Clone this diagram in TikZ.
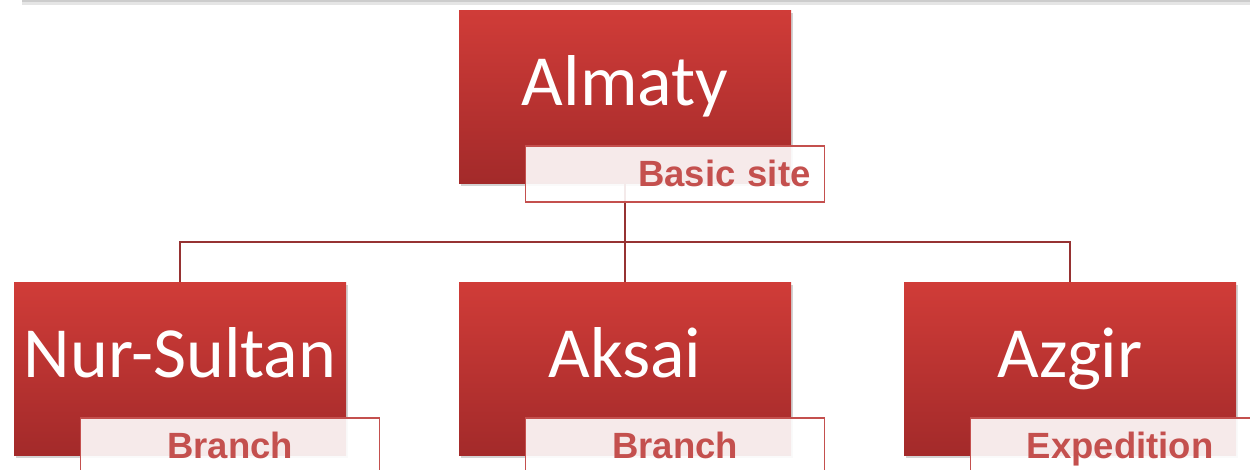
\documentclass[tikz,border=0pt]{standalone}
\usepackage{fontspec}
\setmainfont{Carlito}
\newfontfamily\tagfont{Liberation Sans}
\usetikzlibrary{shadows, positioning}
\definecolor{boxtop}{RGB}{208,60,56}
\definecolor{boxbot}{RGB}{163,42,42}
\definecolor{tagred}{RGB}{196,80,78}
\definecolor{linkred}{RGB}{150,50,50}

\begin{document}
\begin{tikzpicture}[
  x=1pt, y=-1pt,
  site/.style={rectangle, top color=boxtop, bottom color=boxbot, draw=none,
    minimum width=332pt, minimum height=173pt, inner sep=0pt,
    text=white, font=\fontsize{72}{86}\selectfont,
    text height=51pt, text depth=33pt,
    drop shadow={shadow xshift=1.5pt, shadow yshift=-3pt, opacity=0.35}},
  tag/.style={rectangle, draw=tagred, line width=1.5pt, fill=white, fill opacity=0.9,
    text opacity=1, text=tagred, font=\tagfont\bfseries\fontsize{36.5}{40}\selectfont,
    text width=271pt, inner xsep=14pt, inner ysep=0pt, minimum height=56pt,
    text height=27.5pt, text depth=3pt, align=center, anchor=north west},
  link/.style={draw=linkred, line width=2.2pt}
]
\useasboundingbox (0,0) rectangle (1250,469);

% Top edge
\draw[gray!20, line width=4pt] (22,3) -- (1250,3);
\draw[gray!40, line width=1.5pt] (22,1) -- (1250,1);

% Head office
\node[site] (almaty) at (625,96.5) {Almaty};

% Sites
\node[site] (nursultan) at (180,368.5) {Nur-Sultan};
\node[site] (aksai) at (625,368.5) {Aksai};
\node[site] (azgir) at (1070,368.5) {Azgir};

% Connections
\coordinate (bus) at (625,242);
\draw[link] (almaty.south) -- (bus) -| (nursultan.north);
\draw[link] (bus) -- (aksai.north);
\draw[link] (bus) -| (azgir.north);

% Tags
\node[tag, align=right] (almatytag) at ([xshift=66pt,yshift=38pt]almaty.south west) {Basic site};
\node[tag] (nursultantag) at ([xshift=66pt,yshift=38pt]nursultan.south west) {Branch};
\node[tag] (aksaitag) at ([xshift=66pt,yshift=38pt]aksai.south west) {Branch};
\node[tag] (azgirtag) at ([xshift=66pt,yshift=38pt]azgir.south west) {Expedition};

\end{tikzpicture}
\end{document}
